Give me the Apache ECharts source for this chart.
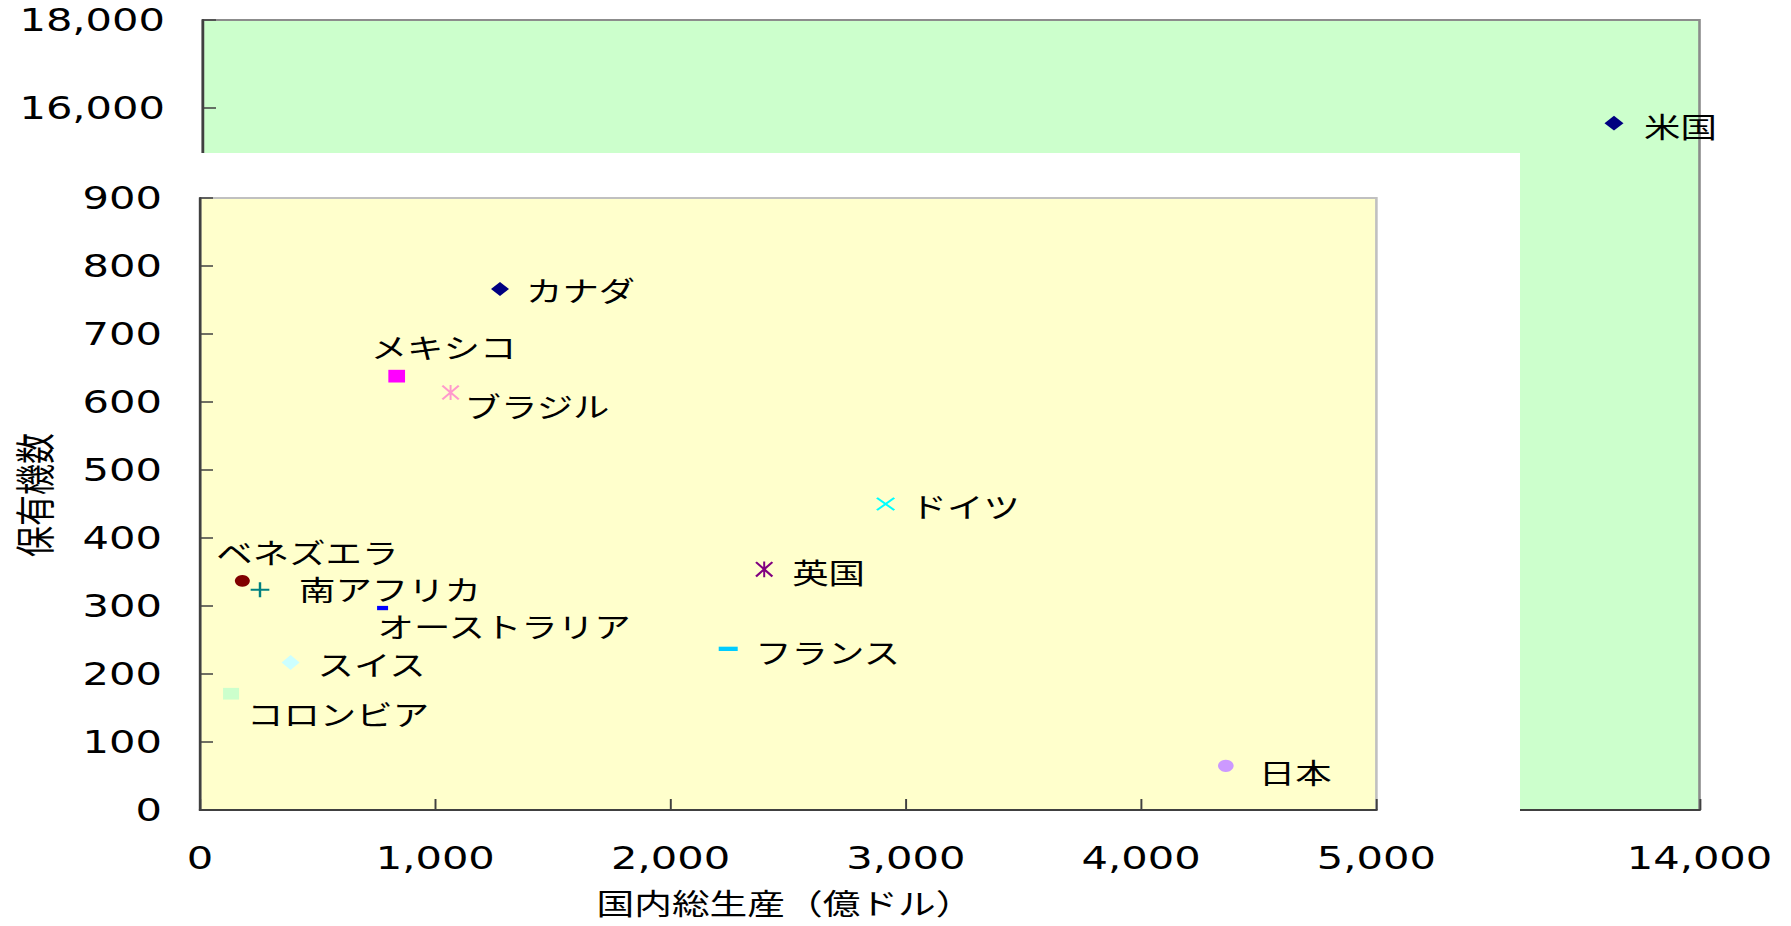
<!DOCTYPE html>
<html>
<head>
<meta charset="utf-8">
<script src="https://cdn.jsdelivr.net/npm/echarts@6/dist/echarts.min.js"></script>
<style>
html, body { margin: 0; padding: 0; background: #ffffff; overflow: hidden; }
#chart { height: 926px; transform-origin: 0 0; }
</style>
</head>
<body>
<div id="chart"></div>
<script>
// ---------------- data ----------------
const countries = ['カナダ', 'メキシコ', 'ブラジル', 'ドイツ', '英国', 'ベネズエラ', '南アフリカ', 'オーストラリア', 'フランス', 'スイス', 'コロンビア', '日本'];
const gdp       = [1275, 836, 1065, 2914, 2398, 180, 255, 776, 2245, 385, 132, 4360];
const aircraft  = [766, 638, 614, 450, 354, 337, 324, 297, 237, 217, 171, 65];

const usName = '米国';
const usGdp = 13200;
const usAircraft = 15650;

const innerXTicks = [0, 1000, 2000, 3000, 4000, 5000];
const innerYTicks = [0, 100, 200, 300, 400, 500, 600, 700, 800, 900];
const outerXTicks = [0, 2000, 4000, 6000, 8000, 10000, 12000, 14000];
const outerYTicks = [0, 2000, 4000, 6000, 8000, 10000, 12000, 14000, 16000, 18000];
const outerXShownLabels = [14000];
const outerYShownLabels = [16000, 18000];

const xTitle = '国内総生産（億ドル）';
const yTitle = '保有機数';

// ---------------- styling / layout ----------------
const S = 1.3;                 // horizontal stretch of the picture
const ix = v => v / S;         // full-picture x pixels -> chart pixels
const fmt = v => v.toLocaleString('en-US');

const PATHS = {
  asterisk: 'path://M0,1.8L1.8,0L10,8.2L18.2,0L20,1.8L11.8,10L20,18.2L18.2,20L10,11.8L1.8,20L0,18.2L8.2,10Z M8.9,0H11.1V20H8.9Z',
  cross: 'path://M0,1.8L1.8,0L10,8.2L18.2,0L20,1.8L11.8,10L20,18.2L18.2,20L10,11.8L1.8,20L0,18.2L8.2,10Z',
  plus: 'path://M8.7,0H11.3V8.7H20V11.3H11.3V20H8.7V11.3H0V8.7H8.7Z'
};

// marker (w,h in picture px), colour, label offset of text start from the point
const markerStyle = {
  '米国':         { symbol: 'diamond',       w: 19,   h: 14.7, color: '#000080', dx: 30,  dy: 2 },
  'カナダ':       { symbol: 'diamond',       w: 18,   h: 14,   color: '#000080', dx: 26,  dy: 0 },
  'メキシコ':     { symbol: 'rect',          w: 16.7, h: 12.7, color: '#FF00FF', dx: -26, dy: -30 },
  'ブラジル':     { symbol: PATHS.asterisk,  w: 18,   h: 15,   color: '#FF99CC', dx: 14,  dy: 13 },
  'ドイツ':       { symbol: PATHS.cross,     w: 19,   h: 13.3, color: '#00FFFF', dx: 25,  dy: 1 },
  '英国':         { symbol: PATHS.asterisk,  w: 18,   h: 15.7, color: '#800080', dx: 28,  dy: 2 },
  'ベネズエラ':   { symbol: 'circle',        w: 15,   h: 11.7, color: '#800000', dx: -26, dy: -29 },
  '南アフリカ':   { symbol: PATHS.plus,      w: 18.7, h: 15,   color: '#008080', dx: 39,  dy: -1 },
  'オーストラリア': { symbol: 'rect',        w: 11,   h: 4.3,  color: '#0000FF', dx: -5,  dy: 17 },
  'フランス':     { symbol: 'rect',          w: 19,   h: 4.3,  color: '#00CCFF', dx: 27,  dy: 3 },
  'スイス':       { symbol: 'diamond',       w: 18,   h: 15,   color: '#CCFFFF', dx: 27,  dy: 1 },
  'コロンビア':   { symbol: 'rect',          w: 16,   h: 11.7, color: '#CCFFCC', dx: 16,  dy: 20 },
  '日本':         { symbol: 'circle',        w: 15.7, h: 12.3, color: '#CC99FF', dx: 33,  dy: 6 }
};

const tickFont = { fontFamily: 'DejaVu Sans', fontSize: 32, color: '#000000' };
const labelFont = { fontFamily: 'Noto Sans CJK JP', fontSize: 28, lineHeight: 28, color: '#000000' };

function makeSeries(name, x, y, axisIdx, z) {
  const st = markerStyle[name];
  const w = ix(st.w);
  return {
    type: 'scatter',
    name: name,
    xAxisIndex: axisIdx,
    yAxisIndex: axisIdx,
    z: z,
    symbol: st.symbol,
    symbolSize: [w, st.h],
    itemStyle: { color: st.color, opacity: 1 },
    emphasis: { disabled: true },
    animation: false,
    label: Object.assign({
      show: true,
      formatter: '{a}',
      position: 'right',
      distance: 0,
      align: 'left',
      verticalAlign: 'middle',
      offset: [ix(st.dx) - w / 2, st.dy],
      textBorderWidth: 0
    }, labelFont),
    data: [[x, y]]
  };
}

const chartEl = document.getElementById('chart');
chartEl.style.width = (1791 / S) + 'px';
chartEl.style.transform = 'scaleX(' + S + ')';
const chart = echarts.init(chartEl, null, { renderer: 'svg' });

const series = [makeSeries(usName, usGdp, usAircraft, 0, 6)];
countries.forEach((c, i) => series.push(makeSeries(c, gdp[i], aircraft[i], 1, 6)));

const axisLineDark = { show: true, lineStyle: { color: '#404040', width: 2 } };

const option = {
  animation: false,
  backgroundColor: '#ffffff',
  grid: [
    { // outer (green) panel
      left: ix(203), top: 20, width: ix(1699.5 - 203), height: 790,
      show: true, backgroundColor: '#CCFFCC', borderColor: '#8C8C8C', borderWidth: 2, z: 0
    },
    { // inner (yellow) panel
      left: ix(200), top: 198, width: ix(1376.4 - 200), height: 612,
      show: true, backgroundColor: '#FFFFCC', borderColor: '#C0C0C0', borderWidth: 2, z: 3
    }
  ],
  xAxis: [
    {
      type: 'value', gridIndex: 0, z: 1,
      min: outerXTicks[0], max: outerXTicks[outerXTicks.length - 1], interval: outerXTicks[1] - outerXTicks[0],
      axisLine: axisLineDark,
      axisTick: { show: true, inside: true, length: 11, lineStyle: { color: '#404040', width: 1.5 } },
      splitLine: { show: false },
      axisLabel: Object.assign({ margin: 32, formatter: v => outerXShownLabels.includes(v) ? fmt(v) : '' }, tickFont)
    },
    {
      type: 'value', gridIndex: 1, z: 4,
      min: innerXTicks[0], max: innerXTicks[innerXTicks.length - 1], interval: innerXTicks[1] - innerXTicks[0],
      axisLine: axisLineDark,
      axisTick: { show: true, inside: true, length: 11, lineStyle: { color: '#404040', width: 1.5 } },
      splitLine: { show: false },
      axisLabel: Object.assign({ margin: 32, formatter: v => fmt(v) }, tickFont),
      name: xTitle, nameLocation: 'middle', nameGap: 78, nameMoveOverlap: false,
      nameTextStyle: { fontFamily: 'Noto Sans CJK JP', fontSize: 29, lineHeight: 29, color: '#000000', padding: [0, 5, 0, 0] }
    }
  ],
  yAxis: [
    {
      type: 'value', gridIndex: 0, z: 1,
      min: outerYTicks[0], max: outerYTicks[outerYTicks.length - 1], interval: outerYTicks[1] - outerYTicks[0],
      axisLine: axisLineDark,
      axisTick: { show: true, inside: true, length: ix(13), lineStyle: { color: '#404040', width: 1.5 } },
      splitLine: { show: false },
      axisLabel: Object.assign({ margin: ix(38), formatter: v => outerYShownLabels.includes(v) ? fmt(v) : '' }, tickFont)
    },
    {
      type: 'value', gridIndex: 1, z: 4,
      min: innerYTicks[0], max: innerYTicks[innerYTicks.length - 1], interval: innerYTicks[1] - innerYTicks[0],
      axisLine: axisLineDark,
      axisTick: { show: true, inside: true, length: ix(13), lineStyle: { color: '#404040', width: 1.5 } },
      splitLine: { show: false },
      axisLabel: Object.assign({ margin: ix(38), formatter: v => fmt(v) }, tickFont),
      name: yTitle, nameLocation: 'middle', nameGap: 114, nameRotate: 90, nameMoveOverlap: false,
      nameTextStyle: { fontFamily: 'Noto Sans CJK JP', fontSize: 31, color: '#000000', padding: [0, 0, 0, 18] }
    }
  ],
  graphic: [
    { // white cut-out of the broken-axis panel
      type: 'rect', z: 2, silent: true,
      shape: { x: ix(185), y: 153, width: ix(1520 - 185), height: 813 - 153 },
      style: { fill: '#ffffff' }
    }
  ],
  series: series
};

chart.setOption(option);
</script>
</body>
</html>
